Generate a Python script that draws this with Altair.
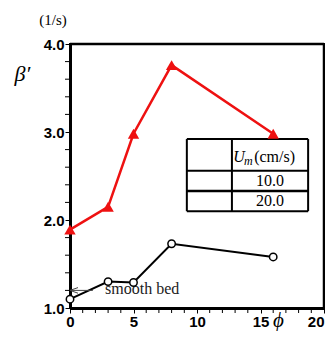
import altair as alt
import pandas as pd

# ---- data ----
phi = [0, 3, 5, 8, 16]
beta_20 = [1.89, 2.15, 2.98, 3.76, 2.98]   # red triangles (Um = 20.0)
beta_10 = [1.10, 1.30, 1.29, 1.73, 1.58]   # black circles (Um = 10.0)
y_major = [1.0, 2.0, 3.0, 4.0]
y_minor = [1.2, 1.4, 1.6, 1.8, 2.2, 2.4, 2.6, 2.8, 3.2, 3.4, 3.6, 3.8]
x_major = [0, 5, 10, 15, 20]
x_minor = [1, 2, 3, 4, 6, 7, 8, 9, 11, 12, 13, 14, 16, 17, 18, 19]
legend_rows = ["10.0", "20.0"]
smooth_bed = 1.2

# ---- layout constants (not data) ----
W, H = 254, 264
TICK = 5
SERIF = "Liberation Serif"
SANS = "Liberation Sans"

red = pd.DataFrame({"phi": phi, "beta": beta_20})
blk = pd.DataFrame({"phi": phi, "beta": beta_10})

xs = alt.Scale(domain=[0, 20], nice=False)
ys = alt.Scale(domain=[1, 4], nice=False)

xaxis = alt.Axis(values=x_major, format="d",
                 ticks=True, tickSize=TICK, tickWidth=1, tickColor="black",
                 labelFont=SANS, labelFontWeight="bold", labelFontSize=15,
                 labelColor="black", labelPadding=1, labelFlush=False,
                 labelAlign={"expr": "datum.value == 20 ? 'right' : 'center'"},
                 domainColor="black", domainWidth=3, grid=False,
                 title="ϕ", titleFont=SERIF, titleFontStyle="italic",
                 titleFontWeight="normal", titleFontSize=21, titleColor="black",
                 titleX=208, titleY=18, titleBaseline="alphabetic",
                 titleAlign="center")
yaxis = alt.Axis(values=y_major, format=".1f",
                 ticks=True, tickSize=TICK, tickWidth=1, tickColor="black",
                 labelFont=SANS, labelFontWeight="bold", labelFontSize=15,
                 labelColor="black", labelPadding=1, labelFlush=False,
                 domainColor="black", domainWidth=3, grid=False,
                 title="β′", titleFont=SERIF, titleFontStyle="italic",
                 titleFontWeight="normal", titleFontSize=22, titleColor="black",
                 titleAngle=0, titleX=-48, titleY=36, titleBaseline="alphabetic",
                 titleAlign="center")

base_x = alt.X("phi:Q", scale=xs, axis=xaxis)
base_y = alt.Y("beta:Q", scale=ys, axis=yaxis)

# frame: top and right edges, drawn through the scales
frame_h = alt.Chart(pd.DataFrame({"x": [0], "x2": [20], "y": [4]})).mark_rule(
    color="black", strokeWidth=2.5).encode(x="x:Q", x2="x2:Q", y="y:Q")
frame_v = alt.Chart(pd.DataFrame({"x": [20], "y": [1], "y2": [4]})).mark_rule(
    color="black", strokeWidth=2.5).encode(x="x:Q", y="y:Q", y2="y2:Q")

red_line = alt.Chart(red).mark_line(color="#ee1111", strokeWidth=2.5).encode(x=base_x, y=base_y)
red_pts = alt.Chart(red).mark_point(shape="triangle-up", filled=True, color="#ee1111",
                                    size=130, opacity=1).encode(x="phi:Q", y="beta:Q")
blk_line = alt.Chart(blk).mark_line(color="black", strokeWidth=2).encode(x="phi:Q", y="beta:Q")
blk_pts = alt.Chart(blk).mark_point(shape="circle", filled=True, fill="white",
                                    stroke="black", strokeWidth=1.5, size=55,
                                    opacity=1).encode(x="phi:Q", y="beta:Q")

# minor ticks (outside the plot, through the scales)
xminor = alt.Chart(pd.DataFrame({"v": x_minor})).mark_rule(color="black", strokeWidth=1).encode(
    x="v:Q", y=alt.value(H), y2=alt.value(H + TICK))
yminor = alt.Chart(pd.DataFrame({"v": y_minor})).mark_rule(color="black", strokeWidth=1).encode(
    y="v:Q", x=alt.value(0), x2=alt.value(-TICK))

# smooth bed arrow + label
arrow_df = pd.DataFrame({"x": [0.0], "x2": [1.8], "y": [smooth_bed]})
arrow_line = alt.Chart(arrow_df).mark_rule(color="#444444", strokeWidth=1).encode(
    x="x:Q", x2="x2:Q", y="y:Q")
arrow_head = alt.Chart(arrow_df).mark_point(
    shape="M0,0L2,-0.7M0,0L2,0.7", filled=False, stroke="#444444",
    strokeWidth=1, size=64, opacity=1).encode(x="x:Q", y="y:Q")
sb_text = alt.Chart(pd.DataFrame({"x": [2.76], "y": [1.16], "t": ["smooth bed"]})).mark_text(
    font=SERIF, fontSize=16, align="left", baseline="alphabetic", color="#222222"
).encode(x="x:Q", y="y:Q", text="t:N")

# legend table (built through the same scales)
tx = [9.2, 12.75, 18.75]
ty = [2.92, 2.56, 2.33, 2.10]
hlines = pd.DataFrame({"x": [tx[0]] * 4, "x2": [tx[2]] * 4, "y": ty,
                       "w": [2, 2, 2.5, 2]})
vlines = pd.DataFrame({"x": [tx[0], tx[1], tx[2]], "y": [ty[0]] * 3, "y2": [ty[3]] * 3})
bg = alt.Chart(pd.DataFrame({"x": [tx[0]], "x2": [tx[2]], "y": [ty[0]], "y2": [ty[3]]})).mark_rect(
    fill="white").encode(x="x:Q", x2="x2:Q", y="y:Q", y2="y2:Q")
h_rules = alt.Chart(hlines).mark_rule(color="black").encode(
    x="x:Q", x2="x2:Q", y="y:Q", strokeWidth=alt.StrokeWidth("w:Q", scale=None))
v_rules = alt.Chart(vlines).mark_rule(color="black", strokeWidth=2).encode(
    x="x:Q", y="y:Q", y2="y2:Q")

hdr_U = alt.Chart(pd.DataFrame({"x": [13.3], "y": [2.655], "t": ["U"]})).mark_text(
    font=SERIF, fontSize=16, fontStyle="italic", baseline="alphabetic", color="black"
).encode(x="x:Q", y="y:Q", text="t:N")
hdr_m = alt.Chart(pd.DataFrame({"x": [14.05], "y": [2.62], "t": ["m"]})).mark_text(
    font=SERIF, fontSize=12, fontStyle="italic", baseline="alphabetic", color="black"
).encode(x="x:Q", y="y:Q", text="t:N")
hdr_unit = alt.Chart(pd.DataFrame({"x": [14.5], "y": [2.655], "t": ["(cm/s)"]})).mark_text(
    font=SERIF, fontSize=16, align="left", baseline="alphabetic", color="black"
).encode(x="x:Q", y="y:Q", text="t:N")
rows = alt.Chart(pd.DataFrame({"x": [15.75, 15.75], "y": [2.386, 2.16], "t": legend_rows})).mark_text(
    font=SERIF, fontSize=16, baseline="alphabetic", color="black"
).encode(x="x:Q", y="y:Q", text="t:N")

unit = alt.Chart(pd.DataFrame({"t": ["(1/s)"]})).mark_text(
    font=SERIF, fontSize=15, color="black", baseline="middle"
).encode(x=alt.value(-17), y=alt.value(-24), text="t:N")

chart = alt.layer(
    red_line, blk_line, xminor, yminor,
    arrow_line, arrow_head, sb_text,
    bg, h_rules, v_rules, hdr_U, hdr_m, hdr_unit, rows,
    red_pts, blk_pts, frame_h, frame_v, unit
).properties(
    width=W, height=H,
    background="white",
    autosize=alt.AutoSizeParams(type="none"),
    padding={"left": 62, "top": 36, "right": 1, "bottom": 23},
).configure_view(
    stroke="black", strokeWidth=2
)

chart.save("out.html", embed_options={"renderer": "svg", "actions": False})
